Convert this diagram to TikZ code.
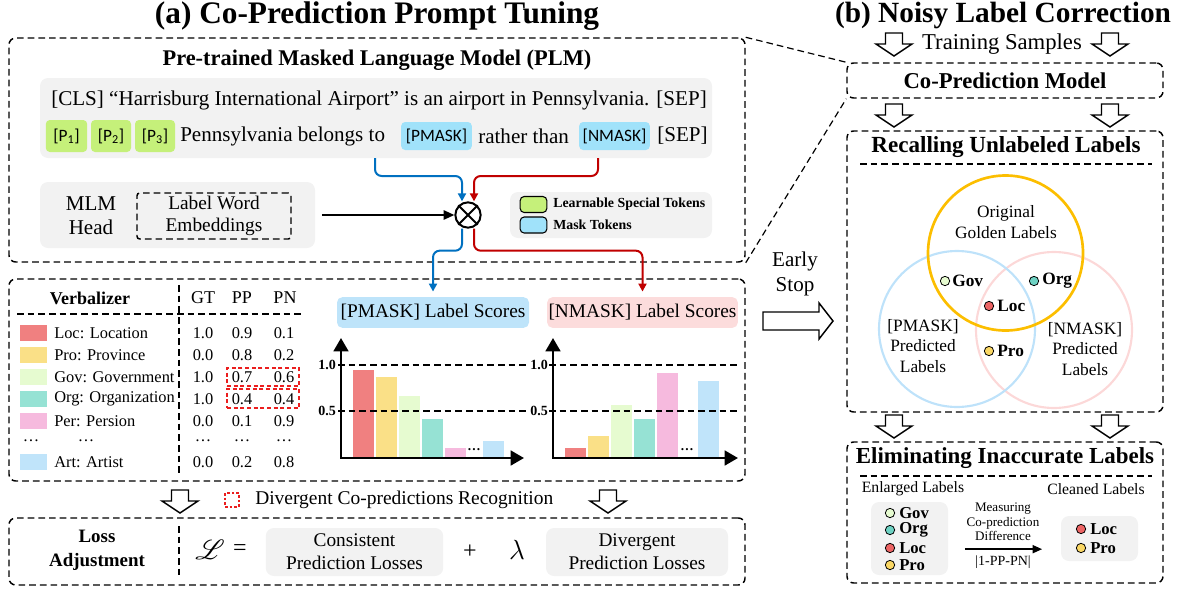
\documentclass[tikz,border=0pt]{standalone}
\usepackage{fontspec}
\setmainfont{Liberation Serif}
\newfontfamily\tokfont{Carlito}
\usepackage{mathrsfs}
\usetikzlibrary{arrows.meta,fit,positioning}

\definecolor{boxgray}{RGB}{242,242,242}
\definecolor{tokgreen}{RGB}{197,240,122}
\definecolor{tokblue}{RGB}{160,226,250}
\definecolor{cLoc}{RGB}{240,128,128}
\definecolor{cPro}{RGB}{250,224,135}
\definecolor{cGov}{RGB}{230,251,208}
\definecolor{cOrg}{RGB}{150,226,212}
\definecolor{cPer}{RGB}{246,186,222}
\definecolor{cArt}{RGB}{192,228,250}
\definecolor{dLoc}{RGB}{236,100,100}
\definecolor{dOrg}{RGB}{110,210,195}
\definecolor{dPro}{RGB}{250,215,100}
\definecolor{flowblue}{RGB}{0,112,192}
\definecolor{flowred}{RGB}{192,0,0}
\definecolor{divred}{RGB}{235,30,30}
\definecolor{gold}{RGB}{252,190,0}
\definecolor{venblue}{RGB}{190,226,250}
\definecolor{venpink}{RGB}{252,216,216}
\definecolor{pmaskbg}{RGB}{190,228,250}
\definecolor{nmaskbg}{RGB}{252,220,220}

\tikzset{
  hollowdown/.pic={\draw[line width=1.1pt, fill=white] (-8.5,0) -- (8.5,0) -- (8.5,11) -- (18,11) -- (0,23) -- (-18,11) -- (-8.5,11) -- cycle;},
  hollowright/.pic={\draw[line width=1.1pt, fill=white] (0,-9) -- (56,-9) -- (56,-18) -- (70,0) -- (56,18) -- (56,9) -- (0,9) -- cycle;}
}

\begin{document}
\begin{tikzpicture}[x=0.75pt, y=-0.75pt,
    panel/.style ={draw, line width=1.1pt, dash pattern=on 5pt off 3pt, rounded corners=5pt, inner sep=0pt},
    graybox/.style ={fill=boxgray, rounded corners=6pt, inner sep=0pt},
    token/.style ={rounded corners=3pt, inner sep=0pt, minimum height=21pt, font=\tokfont\fontsize{13}{15}\selectfont},
    txt/.style ={inner sep=0pt, font=\fontsize{15.8}{18}\selectfont},
    rowtxt/.style ={inner sep=0pt, font=\fontsize{12.3}{14}\selectfont},
    swatch/.style ={inner sep=0pt, minimum width=20pt, minimum height=12pt},
    ldot/.style ={circle, draw, line width=0.6pt, inner sep=0pt, minimum size=7pt},
    divider/.style ={line width=1.1pt, dash pattern=on 5pt off 3pt},
    blueflow/.style ={draw=flowblue, line width=1.5pt, rounded corners=5pt, -{Triangle[length=6pt,width=6pt]}},
    redflow/.style ={draw=flowred, line width=1.5pt, rounded corners=5pt, -{Triangle[length=6pt,width=6pt]}},
    chartaxis/.style ={line width=2pt, {Triangle[length=10pt,width=11pt]}-{Triangle[length=10pt,width=11pt]}},
    gridline/.style ={line width=1pt, dash pattern=on 5pt off 3pt},
    ventxt/.style ={inner sep=0pt, font=\fontsize{13}{15.5}\selectfont, align=center},
    ventag/.style ={inner sep=0pt, anchor=west, font=\bfseries\fontsize{13}{14}\selectfont}]
\useasboundingbox (0,0) rectangle (1185,593);

% titles
\node[font=\bfseries\fontsize{23.5}{26}\selectfont] (titleA) at (377,16) {(a) Co-Prediction Prompt Tuning};
\node[font=\bfseries\fontsize{22}{26}\selectfont] (titleB) at (1003,15) {(b) Noisy Label Correction};

% PLM
\node[panel, fit={(9,38) (745,262)}] (plm) {};
\node[font=\bfseries\fontsize{16.8}{19}\selectfont] (plmtitle) at (377,60) {Pre-trained Masked Language Model (PLM)};
\node[graybox, fit={(40,78) (712,158)}] (input) {};
\node[txt, anchor=west] (cls) at (51,100) {[CLS] “Harrisburg International Airport” is an airport in Pennsylvania. [SEP]};
\node[token, fill=tokgreen, minimum width=31pt, minimum height=24pt] (p1) at (66.5,136) {[P\textsubscript{1}]};
\node[token, fill=tokgreen, minimum width=30pt, minimum height=24pt] (p2) at (111,136) {[P\textsubscript{2}]};
\node[token, fill=tokgreen, minimum width=30pt, minimum height=24pt] (p3) at (155,136) {[P\textsubscript{3}]};
\node[txt, anchor=west] (belongs) at (180,136) {Pennsylvania belongs to};
\node[token, fill=tokblue, minimum width=53pt] (pmask) at (436.5,136) {[PMASK]};
\node[txt, anchor=west] (rather) at (478,136) {rather than};
\node[token, fill=tokblue, minimum width=53pt] (nmask) at (614.5,136) {[NMASK]};
\node[txt, anchor=west] (sep) at (657,136) {[SEP]};

\node[graybox, fit={(40,182) (315,248)}] (mlmbox) {};
\node[align=center, font=\fontsize{15.8}{18}\selectfont] (mlm) at (91,216) {MLM\\Head};
\node[draw, line width=1.1pt, dash pattern=on 5pt off 3pt, rounded corners=2pt, inner sep=0pt, fit={(137,193) (291,239)}] (lwe) {};
\node[align=center, font=\fontsize{14.5}{17}\selectfont] (lwetext) at (lwe.center) {Label Word\\Embeddings};

\node[circle, draw, line width=1.5pt, minimum size=19pt, inner sep=0pt] (otimes) at (468,215) {};
\draw[line width=1.5pt] (otimes.north west) -- (otimes.south east) (otimes.south west) -- (otimes.north east);
\draw[line width=1.2pt, -{Triangle[length=8pt,width=7pt]}] ([xshift=5pt]mlmbox.east) -- (otimes.west);

\node[graybox, fit={(510,192) (712,238)}] (legend) {};
\node[swatch, draw, line width=0.8pt, rounded corners=3pt, fill=tokgreen] (lgreen) at (533.5,204.5) {};
\node[anchor=west, inner sep=0pt, font=\bfseries\fontsize{10.4}{12}\selectfont] (lgreentext) at (553,204.5) {Learnable Special Tokens};
\node[swatch, draw, line width=0.8pt, rounded corners=3pt, fill=tokblue] (lblue) at (533.5,225) {};
\node[anchor=west, inner sep=0pt, font=\bfseries\fontsize{10.4}{12}\selectfont] (lbluetext) at (553,225) {Mask Tokens};

\coordinate (bstart) at (375,158);
\coordinate (rstart) at (598,158);
\draw[blueflow] (bstart) -- ++(0,18) -| ([xshift=-4.5pt]otimes.north);
\draw[redflow] (rstart) -- ++(0,18) -| ([xshift=4.5pt]otimes.north);

% verbalizer and scores
\node[panel, fit={(9,279) (745,481)}] (verbpanel) {};
\draw[divider] (179,285) -- (179,476);
\draw[divider] (17,314) -- (302,314);
\node[font=\bfseries\fontsize{13.5}{15}\selectfont] (verbtitle) at (90,298) {Verbalizer};
\node[font=\fontsize{13.5}{15}\selectfont] (gt) at (203,298) {GT};
\node[font=\fontsize{13.5}{15}\selectfont] (pp) at (242,298) {PP};
\node[font=\fontsize{13.5}{15}\selectfont] (pn) at (285,298) {PN};
\foreach \y/\c/\lab/\g/\p/\n [count=\i] in {333/cLoc/Loc: Location/1.0/0.9/0.1, 355/cPro/Pro: Province/0.0/0.8/0.2, 377/cGov/Gov: Government/1.0/0.7/0.6, 399/cOrg/Org: Organization/1.0/0.4/0.4, 421/cPer/Per: Persion/0.0/0.1/0.9, 462/cArt/Art: Artist/0.0/0.2/0.8} {
  \node[swatch, fill=\c] (sw\i) at (33.5,\y) {};
  \node[rowtxt, anchor=west] (lab\i) at (54,\y) {\lab};
  \node[rowtxt] (gt\i) at (203,\y) {\g};
  \node[rowtxt] (pp\i) at (242,\y) {\p};
  \node[rowtxt] (pn\i) at (284,\y) {\n};
}
\foreach \x [count=\i] in {31,86,203,242,284}
  \node[rowtxt] (rowdots\i) at (\x,441) {…};
\node[draw=divred, line width=1pt, dash pattern=on 3pt off 2pt, inner sep=0pt, fit={(227,368) (299,386)}] (divone) {};
\node[draw=divred, line width=1pt, dash pattern=on 3pt off 2pt, inner sep=0pt, fit={(227,389) (299,408)}] (divtwo) {};

\node[fill=pmaskbg, rounded corners=4pt, inner sep=0pt, minimum width=144pt, minimum height=23pt, font=\fontsize{14.5}{16}\selectfont] (pmtitle) at (433,312.5) {[PMASK] Label Scores};
\node[fill=nmaskbg, rounded corners=4pt, inner sep=0pt, minimum width=143pt, minimum height=23pt, font=\fontsize{14.5}{16}\selectfont] (nmtitle) at (642.5,312.5) {[NMASK] Label Scores};
\draw[blueflow] ([xshift=-4.5pt]otimes.south) -- ++(0,22) -| ([yshift=4pt]pmtitle.north);
\draw[redflow] ([xshift=4.5pt]otimes.south) -- ++(0,22) -| ([yshift=4pt]nmtitle.north);

\foreach \xl/\top/\c in {353/370/cLoc, 376/377/cPro, 399/396/cGov, 422/419/cOrg, 445/448/cPer, 483/441/cArt}
  \fill[\c] (\xl,457) rectangle (\xl+21,\top);
\foreach \xl/\top/\c in {565/448/cLoc, 588/436/cPro, 611/405/cGov, 634/419/cOrg, 657/373/cPer, 698/381/cArt}
  \fill[\c] (\xl,457) rectangle (\xl+21,\top);
\draw[gridline] (338,365) -- (527,365) (338,411) -- (527,411);
\draw[gridline] (549,365) -- (738,365) (549,411) -- (738,411);
\draw[chartaxis, line join=miter] (341,338) -- (341,458) -- (524,458);
\draw[chartaxis, line join=miter] (553,338) -- (553,458) -- (738,458);
\node[font=\bfseries\fontsize{10.5}{12}\selectfont] (pmone) at (327,365) {1.0};
\node[font=\bfseries\fontsize{10.5}{12}\selectfont] (pmhalf) at (327,411) {0.5};
\node[font=\bfseries\fontsize{10.5}{12}\selectfont] (nmone) at (539,365) {1.0};
\node[font=\bfseries\fontsize{10.5}{12}\selectfont] (nmhalf) at (539,411) {0.5};
\node[font=\bfseries\fontsize{10}{12}\selectfont] (pmdots) at (474,450) {…};
\node[font=\bfseries\fontsize{10}{12}\selectfont] (nmdots) at (687,450) {…};

% loss adjustment
\pic at (180,490) {hollowdown};
\pic at (608,490) {hollowdown};
\node[draw=divred, line width=1pt, dash pattern=on 2pt off 1.5pt, inner sep=0pt, minimum size=10.5pt] (divkey) at (232,500) {};
\node[anchor=west, inner sep=0pt, font=\fontsize{14.6}{16}\selectfont] (divtext) at (255,500) {Divergent Co-predictions Recognition};
\node[panel, fit={(9,518) (745,585)}] (losspanel) {};
\draw[divider] (179,526) -- (179,578);
\node[align=center, font=\bfseries\fontsize{14.2}{18}\selectfont] (lossname) at (97,550) {Loss\\Adjustment};
\node[font=\fontsize{21}{24}\selectfont] (lsym) at (210,550) {$\mathscr{L}$};
\node[font=\fontsize{18}{20}\selectfont] (eq) at (240,550) {=};
\node[graybox, minimum width=133pt, minimum height=36pt, align=center, font=\fontsize{14.5}{17}\selectfont] (cons) at (354.5,552) {Consistent\\Prediction Losses};
\node[font=\fontsize{18}{20}\selectfont] (plus) at (470,552) {+};
\node[font=\fontsize{21}{24}\selectfont] (lam) at (517,550) {$\lambda$};
\node[graybox, minimum width=136.5pt, minimum height=36pt, align=center, font=\fontsize{14.5}{17}\selectfont] (divg) at (637,552) {Divergent\\Prediction Losses};

% noisy label correction
\node[font=\fontsize{17}{19}\selectfont] (train) at (1002,44) {Training Samples};
\pic at (894,33) {hollowdown};
\pic at (1110,33) {hollowdown};
\node[panel, fit={(847,63) (1163,98)}] (copred) {};
\node[font=\bfseries\fontsize{17}{19}\selectfont] (copredtext) at (copred.center) {Co-Prediction Model};
\draw[line width=0.9pt, dash pattern=on 5pt off 3pt] (plm.north east) -- (copred.north west);
\draw[line width=0.9pt, dash pattern=on 5pt off 3pt] (plm.south east) -- (copred.south west);
\pic at (894,104) {hollowdown};
\pic at (1110,104) {hollowdown};

\node[panel, fit={(847,131) (1163,412)}] (recall) {};
\node[font=\bfseries\fontsize{17.3}{19}\selectfont] (recalltitle) at (1006,147) {Recalling Unlabeled Labels};
\draw[divider] (860,164) -- (1152,164);
\draw[venpink, line width=1.6pt] (1054,330) circle [radius=78];
\draw[venblue, line width=1.6pt] (957,329) circle [radius=78];
\draw[gold, line width=2pt] (1005.5,253) circle [radius=77.5];
\node[ventxt] (golden) at (1006,222) {Original\\Golden Labels};
\node[ventxt] (pmlabels) at (923,346) {[PMASK]\\Predicted\\Labels};
\node[ventxt] (nmlabels) at (1085,349) {[NMASK]\\Predicted\\Labels};
\node[ldot, fill=cGov] (govdot) at (945,281) {};
\node[ventag] (gov) at (952,281) {Gov};
\node[ldot, fill=dOrg] (orgdot) at (1034,281) {};
\node[ventag] (org) at (1042,281) {Org};
\node[ldot, fill=dLoc] (locdot) at (989,306) {};
\node[ventag] (loc) at (997,306) {Loc};
\node[ldot, fill=dPro] (prodot) at (989,351) {};
\node[ventag] (pro) at (997,351) {Pro};

\node[align=center, font=\fontsize{15.8}{19}\selectfont] (early) at (795,274) {Early\\Stop};
\pic at (763,321) {hollowright};
\pic at (894,415) {hollowdown};
\pic at (1110,415) {hollowdown};

\node[panel, fit={(847,442) (1163,583)}] (elim) {};
\node[font=\bfseries\fontsize{17.2}{19}\selectfont] (elimtitle) at (1005,458) {Eliminating Inaccurate Labels};
\draw[divider] (860,476) -- (1152,476);
\node[font=\fontsize{11.8}{13}\selectfont] (enltitle) at (913,489) {Enlarged Labels};
\node[font=\fontsize{11.8}{13}\selectfont] (cleantitle) at (1096,489) {Cleaned Labels};
\node[graybox, fit={(871,502) (948,575)}] (enlarged) {};
\foreach \y/\c/\lab [count=\i] in {513/cGov/Gov, 530/dOrg/Org, 548/dLoc/Loc, 565/dPro/Pro} {
  \node[ldot, fill=\c] (edot\i) at (890,\y) {};
  \node[ventag, font=\bfseries\fontsize{12.5}{14}\selectfont] (etag\i) at (899,\y) {\lab};
}
\node[graybox, fit={(1061,516) (1138,561)}] (cleaned) {};
\foreach \y/\c/\lab [count=\i] in {529/dLoc/Loc, 548/dPro/Pro} {
  \node[ldot, fill=\c] (cdot\i) at (1081,\y) {};
  \node[ventag, font=\bfseries\fontsize{12.5}{14}\selectfont] (ctag\i) at (1090,\y) {\lab};
}
\draw[line width=1.1pt, -{Triangle[length=7pt,width=6pt]}, shorten <=12.5pt, shorten >=14pt] ([yshift=-8pt]enlarged.east) -- ([yshift=-8pt]cleaned.west);
\node[align=center, font=\fontsize{9.8}{11}\selectfont] (measure) at (1003,522) {Measuring\\Co-prediction\\Difference};
\node[font=\fontsize{10.5}{12}\selectfont] (formula) at (1003,562) {|1-PP-PN|};
\end{tikzpicture}
\end{document}
